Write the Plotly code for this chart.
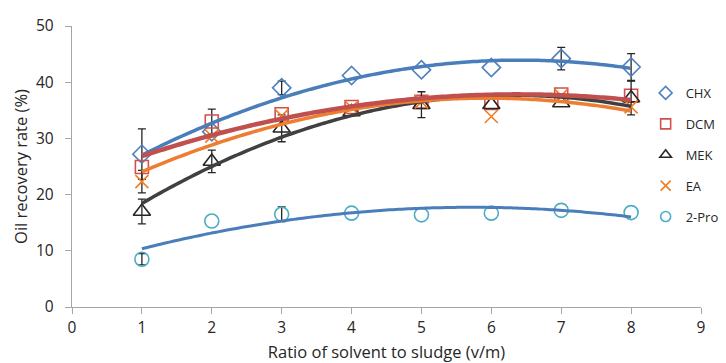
import numpy as np
import plotly.graph_objects as go

x = [1, 2, 3, 4, 5, 6, 7, 8]
names = ["CHX", "DCM", "MEK", "EA", "2-Pro"]
chx = [27.2, 31.2, 39.0, 41.2, 42.2, 42.6, 44.2, 42.7]
dcm = [24.9, 33.0, 34.3, 35.6, 36.5, 36.3, 37.8, 37.6]
mek = [17.0, 25.9, 31.8, 34.7, 36.0, 36.0, 36.3, 37.2]
ea = [22.3, 30.4, 34.0, 35.5, 36.5, 33.9, 37.6, 35.6]
pro = [8.5, 15.3, 16.5, 16.7, 16.4, 16.7, 17.2, 16.8]
chx_err = [4.5, None, 1.2, None, None, None, 2.0, 2.4]
dcm_err = [None, 2.2, None, None, None, None, None, None]
mek_err = [2.2, 2.0, 2.4, None, 2.3, None, None, 3.0]
ea_err = [2.0, None, None, None, None, None, None, None]
pro_err = [1.0, None, 1.3, None, None, None, None, None]

series = [chx, dcm, mek, ea, pro]
errs = [chx_err, dcm_err, mek_err, ea_err, pro_err]
symbols = ["diamond-open", "square-open", "triangle-up-open", "x-thin-open", "circle-open"]
mcolors = ["#4f81bd", "#d0504d", "#262626", "#f07d22", "#4bacc6"]
msizes = [14, 13, 15, 13, 14]
lcolors = ["#4a7ebb", "#c0504d", "#404040", "#ed7d31", "#4a7ebb"]
lwidths = [3.5, 4.5, 3.5, 3.5, 3]

fig = go.Figure()
for i, (nm, ys, er) in enumerate(zip(names, series, errs)):
    idx = [k for k, e in enumerate(er) if e is not None]
    fig.add_trace(go.Scatter(
        x=[x[k] for k in idx], y=[ys[k] for k in idx], mode="markers",
        showlegend=False, hoverinfo="skip",
        marker=dict(size=1, color="rgba(0,0,0,0)"),
        error_y=dict(type="data", array=[er[k] for k in idx], visible=True,
                     color="#262626", thickness=1.3, width=4),
    ))
    fig.add_trace(go.Scatter(
        x=x, y=ys, mode="markers", name=nm, showlegend=False,
        marker=dict(symbol=symbols[i], size=msizes[i], color=mcolors[i],
                    line=dict(width=1.6, color=mcolors[i])),
    ))

order = [4, 0, 2, 3, 1]
for i in order:
    ys = series[i]
    c = np.polyfit(x, ys, 2)
    xs = np.linspace(1, 8, 80)
    fig.add_trace(go.Scatter(
        x=xs, y=np.polyval(c, xs), mode="lines", showlegend=False,
        line=dict(color=lcolors[i], width=lwidths[i], shape="spline"),
        hoverinfo="skip",
    ))

# legend entries (smaller marker icons, as in the reference legend)
for i, nm in enumerate(names):
    fig.add_trace(go.Scatter(
        x=[None], y=[None], mode="markers", name=nm, legendgroup=nm,
        marker=dict(symbol=symbols[i], size=10, color=mcolors[i],
                    line=dict(width=1.6, color=mcolors[i])),
    ))

axis_font = dict(family="Open Sans, Liberation Sans, sans-serif", size=15.5, color="#262626")
fig.update_layout(
    width=726, height=363,
    margin=dict(l=72, r=25, t=26, b=56, autoexpand=False),
    paper_bgcolor="white", plot_bgcolor="white",
    font=axis_font,
    showlegend=True,
    legend=dict(x=0.912, y=0.815, xanchor="left", yanchor="top",
                font=dict(size=13, color="#262626"), tracegroupgap=11,
                bgcolor="rgba(0,0,0,0)", itemwidth=30),
    xaxis=dict(range=[0, 9], dtick=1, tick0=0, showgrid=False, zeroline=False,
               showline=True, linecolor="#a6a6a6", linewidth=1.3,
               ticks="outside", ticklen=6, tickcolor="#a6a6a6",
               title=dict(text="Ratio of solvent to sludge (v/m)", standoff=12,
                          font=dict(size=16.5)),
               tickfont=axis_font),
    yaxis=dict(range=[0, 50], dtick=10, tick0=0, showgrid=False, zeroline=False,
               showline=True, linecolor="#a6a6a6", linewidth=1.3,
               ticks="outside", ticklen=6, tickcolor="#a6a6a6", ticksuffix="  ",
               title=dict(text="Oil recovery rate (%)", standoff=4,
                          font=dict(size=16.5)),
               tickfont=axis_font),
)
fig.write_html("out.html")
